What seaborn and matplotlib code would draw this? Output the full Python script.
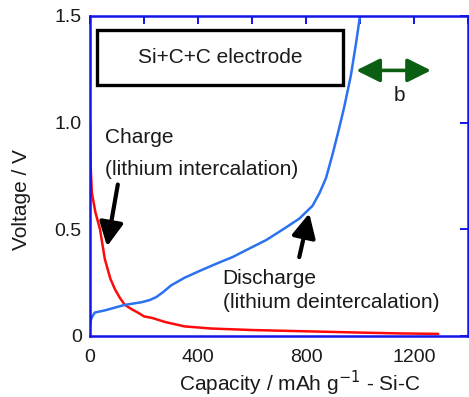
import matplotlib
matplotlib.use("Agg")
import matplotlib.pyplot as plt
from matplotlib.patches import Rectangle
import seaborn as sns
import pandas as pd

# Charge curve (lithium intercalation)
charge_capacity = [0, 1, 3, 7, 20, 37, 55, 75, 92, 110, 129, 155, 177, 200, 229,
                   280, 350, 450, 600, 800, 1000, 1150, 1290]
charge_voltage = [1.0, 0.90, 0.78, 0.67, 0.58, 0.50, 0.36, 0.27, 0.22, 0.18, 0.146,
                  0.125, 0.11, 0.092, 0.085, 0.065, 0.045, 0.035, 0.028, 0.022,
                  0.016, 0.012, 0.010]

# Discharge curve (lithium deintercalation)
discharge_capacity = [0, 3, 10, 18, 55, 129, 190, 220, 245, 270, 300, 350, 406, 470,
                      528, 590, 653, 715, 775, 824, 850, 874, 898, 920, 941, 966,
                      985, 1000]
discharge_voltage = [0.05, 0.075, 0.095, 0.11, 0.12, 0.146, 0.158, 0.168, 0.182,
                     0.205, 0.237, 0.273, 0.305, 0.34, 0.37, 0.41, 0.45, 0.50, 0.55,
                     0.61, 0.67, 0.74, 0.85, 0.96, 1.07, 1.22, 1.37, 1.50]

x_ticks = [0, 200, 400, 600, 800, 1000, 1200, 1400]
x_tick_labels = ["0", "", "400", "", "800", "", "1200", ""]
y_ticks = [0, 0.5, 1.0, 1.5]
y_tick_labels = ["0", "0.5", "1.0", "1.5"]

sns.set_theme(style="white")
plt.rcParams["font.family"] = ["Liberation Sans", "DejaVu Sans"]

spine_blue = "#1414e6"
text_col = "#1a1a1a"

fig = plt.figure(figsize=(4.69, 3.97), dpi=100)
ax = fig.add_axes([90 / 469, 1 - 336 / 397, 378 / 469, 320 / 397])

df_ch = pd.DataFrame({"cap": charge_capacity, "v": charge_voltage})
df_dis = pd.DataFrame({"cap": discharge_capacity, "v": discharge_voltage})
sns.lineplot(data=df_ch, x="cap", y="v", ax=ax, color="#ff0a0a", lw=1.8,
             sort=False, estimator=None)
sns.lineplot(data=df_dis, x="cap", y="v", ax=ax, color="#2a72f0", lw=1.8,
             sort=False, estimator=None)

ax.set_xlim(0, 1400)
ax.set_ylim(0, 1.5)
ax.set_xticks(x_ticks)
ax.set_xticklabels(x_tick_labels)
ax.set_yticks(y_ticks)
ax.set_yticklabels(y_tick_labels)
ax.tick_params(direction="in", length=6, width=1.4, color=spine_blue,
               top=True, right=True, labelsize=14, labelcolor=text_col)
ax.tick_params(axis="x", pad=9)
ax.tick_params(axis="y", pad=6)
for s in ax.spines.values():
    s.set_color(spine_blue)
    s.set_linewidth(1.8)

ax.set_xlabel("Capacity / mAh g$^{\\mathrm{-1}}$ - Si-C", fontsize=15,
              color=text_col, va="baseline")
ax.xaxis.set_label_coords(0.556, -0.172)
ax.set_ylabel("Voltage / V", fontsize=15, color=text_col, va="center")
ax.yaxis.set_label_coords(-0.18, 0.425)

# Electrode label box
ax.add_patch(Rectangle((0.0185, 0.784), 0.651, 0.172, transform=ax.transAxes,
                       fill=False, ec="black", lw=2.4, zorder=5))
ax.text(0.0185 + 0.651 / 2, 0.784 + 0.172 / 2, "Si+C+C electrode",
        transform=ax.transAxes, ha="center", va="center", fontsize=15, color=text_col)

# Annotations
ax.text(55, 0.93, "Charge", fontsize=15, color=text_col, va="center", ha="left")
ax.text(55, 0.78, "(lithium intercalation)", fontsize=15, color=text_col,
        va="center", ha="left")
ax.text(491, 0.27, "Discharge", fontsize=15, color=text_col, va="center", ha="left")
ax.text(491, 0.155, "(lithium deintercalation)", fontsize=15, color=text_col,
        va="center", ha="left")

arrow_kw = dict(arrowstyle="-|>,head_length=0.9,head_width=0.45", color="black",
                lw=3, shrinkA=0, shrinkB=0, mutation_scale=16)
ax.annotate("", xy=(63, 0.42), xytext=(103, 0.71), arrowprops=arrow_kw)
ax.annotate("", xy=(812, 0.575), xytext=(775, 0.37), arrowprops=arrow_kw)

ax.annotate("", xy=(986, 1.245), xytext=(1263, 1.245),
            arrowprops=dict(arrowstyle="<|-|>,head_length=0.9,head_width=0.45",
                            color="#0a5f12", lw=2.6, shrinkA=0, shrinkB=0,
                            mutation_scale=16))
ax.text(1145, 1.127, "b", fontsize=15, color=text_col, ha="center", va="center")

fig.savefig("out.png", dpi=100)
